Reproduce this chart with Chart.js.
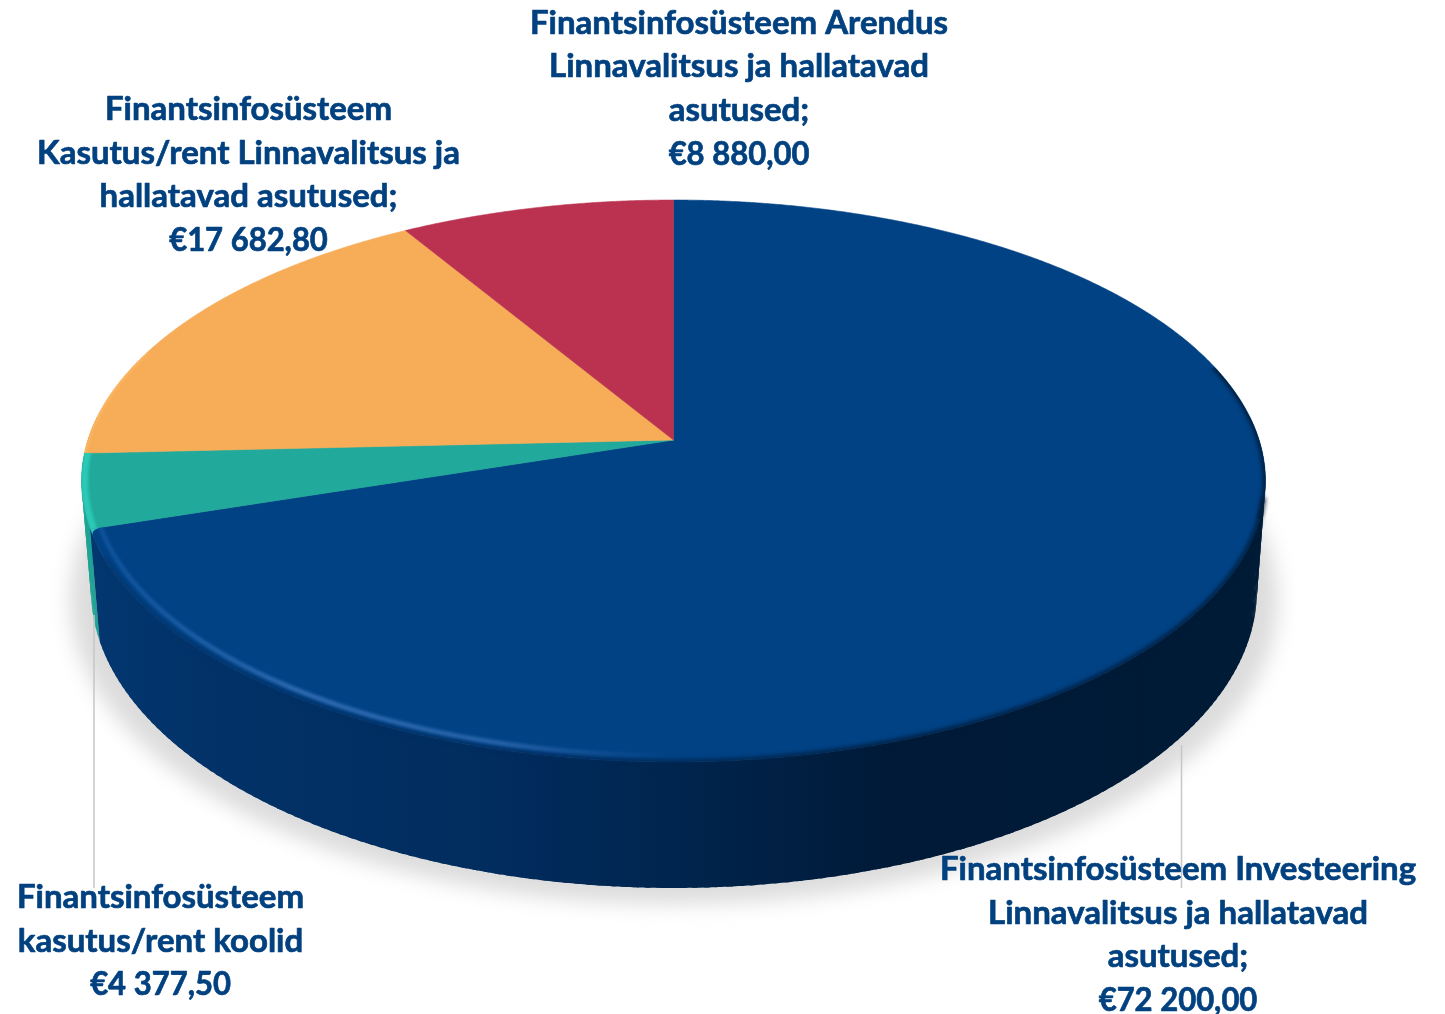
<!DOCTYPE html>
<html>
<head>
<meta charset="utf-8">
<title>Finantsinfosüsteem</title>
<script src="https://cdn.jsdelivr.net/npm/chart.js@4/dist/chart.umd.min.js"></script>
<style>
    html, body { margin: 0; padding: 0; background: #fff; overflow: hidden; }
    #wrap { width: 1445px; height: 1014px; }
</style>
</head>
<body>
<div id="wrap"><canvas id="pie"></canvas></div>
<script>
// 数据
const categories = [
    'Finantsinfosüsteem Investeering Linnavalitsus ja hallatavad asutused',
    'Finantsinfosüsteem kasutus/rent koolid',
    'Finantsinfosüsteem Kasutus/rent Linnavalitsus ja hallatavad asutused',
    'Finantsinfosüsteem Arendus Linnavalitsus ja hallatavad asutused'
];
const values = [72200, 4377.5, 17682.8, 8880];
const valueLabels = ['€72 200,00', '€4 377,50', '€17 682,80', '€8 880,00'];
const labelLines = [
    ['Finantsinfosüsteem Investeering', 'Linnavalitsus ja hallatavad', 'asutused;'],
    ['Finantsinfosüsteem', 'kasutus/rent koolid'],
    ['Finantsinfosüsteem', 'Kasutus/rent Linnavalitsus ja', 'hallatavad asutused;'],
    ['Finantsinfosüsteem Arendus', 'Linnavalitsus ja hallatavad', 'asutused;']
];

// 颜色
const topColors = ['#014285', '#21a99b', '#f7ac57', '#bb3250'];
const wallColors = ['#01305f', '#1fa394', '#c98a40', '#8c2238'];
const textColor = '#02417f';

// 标签位置: 中心 x, 第一行基线 y
const labelPos = [
    { x: 1178, y: 880 },
    { x: 160.5, y: 908 },
    { x: 248.5, y: 120 },
    { x: 739, y: 33.5 }
];
const lineGap = 43.7;

// 透视: 顶面和底面
const K = 0.146;
const topFace = { x: 673.5, y: 440, a: 585.6, b: 275 };
const bottomFace = { x: 674, y: 546.5, a: 576.7, b: 291.6 };
const project = (face, angle, r = 1) => {
    const u = Math.cos(angle) * r;
    const v = Math.sin(angle) * r;
    const d = 1 - K * v;
    return { x: face.x + face.a * u / d, y: face.y + face.b * v / d };
};
const DEG = Math.PI / 180;

function tracePoints(ctx, face, from, to, r = 1) {
    const steps = Math.max(2, Math.ceil(Math.abs(to - from) / (0.25 * DEG)));
    for (let i = 0; i <= steps; i++) {
        const p = project(face, from + (to - from) * i / steps, r);
        ctx.lineTo(p.x, p.y);
    }
}

function strokeRim(ctx, from, to, r, width, blur, style) {
    ctx.save();
    ctx.filter = `blur(${blur}px)`;
    ctx.strokeStyle = style;
    ctx.lineWidth = width;
    ctx.lineCap = 'round';
    ctx.beginPath();
    tracePoints(ctx, topFace, from, to, r);
    ctx.stroke();
    ctx.restore();
}

function clipSlice(ctx, from, to) {
    ctx.beginPath();
    ctx.moveTo(topFace.x, topFace.y);
    tracePoints(ctx, topFace, from, to);
    ctx.closePath();
    ctx.clip();
}

function wallGradient(ctx) {
    const g = ctx.createLinearGradient(90, 0, 1260, 0);
    g.addColorStop(0, '#03376f');
    g.addColorStop(0.1, '#023268');
    g.addColorStop(0.35, '#012c5e');
    g.addColorStop(0.52, '#00244c');
    g.addColorStop(0.68, '#001a38');
    g.addColorStop(1, '#001b36');
    return g;
}

const pie3dPlugin = {
    id: 'pie3d',
    // 用 arc 元素的角度画透视饼图
    beforeDatasetDraw(chart, args) {
        const ctx = chart.ctx;
        const arcs = chart.getDatasetMeta(args.index).data;
        const wallFrom = -5 * DEG;
        const wallTo = 185 * DEG;

        // 阴影
        ctx.save();
        ctx.filter = 'blur(10px)';
        ctx.fillStyle = '#dcdcdc';
        ctx.beginPath();
        ctx.ellipse(674, 600, 604, 304, 0, 0, Math.PI * 2);
        ctx.fill();
        ctx.restore();

        // 侧面, 每小段单独填, 避免切点处互相抵消
        const wallStep = 1 * DEG;
        for (let i = arcs.length - 1; i >= 0; i--) {
            const from = Math.max(arcs[i].startAngle, wallFrom);
            const to = Math.min(arcs[i].endAngle, wallTo);
            if (to <= from) continue;
            ctx.fillStyle = i === 0 ? wallGradient(ctx) : wallColors[i];
            for (let a = from; a < to; a += wallStep) {
                const b = Math.min(a + wallStep * 1.5, to);
                ctx.beginPath();
                tracePoints(ctx, topFace, a, b);
                tracePoints(ctx, bottomFace, b, a);
                ctx.closePath();
                ctx.fill();
            }
        }

        // 顶面
        arcs.forEach((arc, i) => {
            ctx.beginPath();
            ctx.moveTo(topFace.x, topFace.y);
            tracePoints(ctx, topFace, arc.startAngle, arc.endAngle);
            ctx.closePath();
            ctx.fillStyle = topColors[i];
            ctx.strokeStyle = topColors[i];
            ctx.lineWidth = 0.6;
            ctx.fill();
            ctx.stroke();
        });

        // 边缘明暗
        const blue = arcs[0];
        const teal = arcs[1];
        const orange = arcs[2];
        ctx.save();
        clipSlice(ctx, -16 * DEG, 16 * DEG);
        strokeRim(ctx, -16 * DEG, 16 * DEG, 1, 5, 2, '#001b36');
        ctx.restore();
        strokeRim(ctx, 12 * DEG, blue.endAngle - 6 * DEG, 0.999, 4, 2, wallGradient(ctx));

        const hi = ctx.createLinearGradient(95, 0, 680, 0);
        hi.addColorStop(0, 'rgba(20,90,165,0.7)');
        hi.addColorStop(0.35, 'rgba(50,110,180,0.95)');
        hi.addColorStop(0.7, 'rgba(45,105,175,0.85)');
        hi.addColorStop(1, 'rgba(30,90,160,0)');
        ctx.save();
        clipSlice(ctx, 90 * DEG, blue.endAngle);
        strokeRim(ctx, 90 * DEG, blue.endAngle + 1 * DEG, 0.983, 4.5, 1.8, hi);
        ctx.restore();

        ctx.save();
        clipSlice(ctx, teal.startAngle, teal.endAngle);
        strokeRim(ctx, teal.startAngle - 2 * DEG, teal.endAngle + 2 * DEG, 0.995, 7, 1.5, '#2bcab6');
        ctx.restore();

        ctx.save();
        clipSlice(ctx, orange.startAngle, orange.endAngle);
        strokeRim(ctx, orange.startAngle - 2 * DEG, orange.startAngle + 22 * DEG, 1, 4, 1.5, 'rgba(253,187,106,0.7)');
        ctx.restore();

        // 蓝色扇区左角做圆
        const corner = project(topFace, blue.endAngle);
        const inner = project(topFace, blue.endAngle, 0.978);
        const below = project(topFace, blue.endAngle - 1.4 * DEG);
        ctx.fillStyle = '#2bcab6';
        ctx.beginPath();
        ctx.moveTo(corner.x, corner.y);
        ctx.lineTo(inner.x, inner.y);
        ctx.quadraticCurveTo(corner.x, corner.y, below.x, below.y);
        ctx.closePath();
        ctx.fill();

        return false;
    },
    // 引导线和标签
    afterDatasetsDraw(chart) {
        const ctx = chart.ctx;
        ctx.save();
        ctx.strokeStyle = '#c6c6c6';
        ctx.lineWidth = 1.5;
        ctx.beginPath();
        ctx.moveTo(94, 615);
        ctx.lineTo(94, 888);
        ctx.moveTo(1181.5, 745);
        ctx.lineTo(1181.5, 888);
        ctx.stroke();

        ctx.fillStyle = textColor;
        ctx.strokeStyle = textColor;
        ctx.lineWidth = 0.7;
        ctx.lineJoin = 'round';
        ctx.font = 'bold 33px Lato';
        ctx.textAlign = 'center';
        ctx.textBaseline = 'alphabetic';
        labelLines.forEach((lines, i) => {
            lines.forEach((line, j) => {
                const y = labelPos[i].y + j * lineGap;
                ctx.fillText(line, labelPos[i].x, y);
                ctx.strokeText(line, labelPos[i].x, y);
            });
            // 数字行略窄
            ctx.save();
            ctx.translate(labelPos[i].x, labelPos[i].y + lines.length * lineGap);
            ctx.scale(0.94, 1);
            ctx.fillText(valueLabels[i], 0, 0);
            ctx.strokeText(valueLabels[i], 0, 0);
            ctx.restore();
        });
        ctx.restore();
    }
};

new Chart(document.getElementById('pie').getContext('2d'), {
    type: 'pie',
    data: {
        labels: categories,
        datasets: [{ data: values, backgroundColor: topColors, borderWidth: 0 }]
    },
    options: {
        responsive: true,
        maintainAspectRatio: false,
        animation: false,
        plugins: {
            legend: { display: false },
            tooltip: { enabled: false }
        }
    },
    plugins: [pie3dPlugin]
});
</script>
</body>
</html>
